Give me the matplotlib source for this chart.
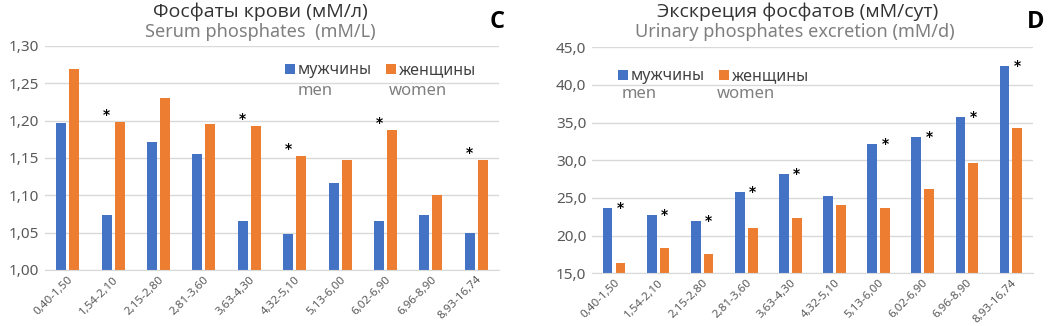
import matplotlib.pyplot as plt
import numpy as np

plt.rcParams['font.family'] = ['Noto Sans', 'DejaVu Sans']

groups = ['0,40-1,50', '1,54-2,10', '2,15-2,80', '2,81-3,60', '3,63-4,30',
          '4,32-5,10', '5,13-6,00', '6,02-6,90', '6,96-8,90', '8,93-16,74']

serum_men = [1.197, 1.073, 1.171, 1.155, 1.066, 1.048, 1.117, 1.066, 1.073, 1.050]
serum_women = [1.269, 1.198, 1.231, 1.195, 1.193, 1.153, 1.147, 1.188, 1.101, 1.147]
serum_star = [False, True, False, False, True, True, False, True, False, True]

urine_men = [23.7, 22.8, 21.9, 25.8, 28.2, 25.3, 32.1, 33.1, 35.8, 42.5]
urine_women = [16.4, 18.4, 17.5, 21.0, 22.3, 24.1, 23.7, 26.2, 29.6, 34.3]
urine_star = [True, True, True, True, True, False, True, True, True, True]

BLUE = '#4472C4'
ORANGE = '#ED7D31'
DARK = '#404040'
GRAY = '#7F7F7F'

fig = plt.figure(figsize=(10.49, 3.26), dpi=100)
ax1 = fig.add_axes([0.0429, 0.1718, 0.4328, 0.6871])
ax2 = fig.add_axes([0.5643, 0.1616, 0.4204, 0.6933])

x = np.arange(len(groups))
w = 0.22
off = 0.145


def style(ax, ylim, step, fmt):
    ax.set_xlim(-0.5, len(groups) - 0.5)
    ax.set_ylim(*ylim)
    ticks = np.arange(ylim[0], ylim[1] + step / 2, step)
    ax.set_yticks(ticks)
    ax.set_yticklabels([fmt.format(t).replace('.', ',') for t in ticks],
                       color='#595959', fontsize=11)
    ax.set_xticks(x)
    ax.set_xticklabels(groups, rotation=45, ha='right', rotation_mode='anchor',
                       color='#595959', fontsize=8.3)
    ax.tick_params(length=0, pad=4)
    ax.tick_params(axis='x', pad=3)
    for s in ['top', 'right', 'left']:
        ax.spines[s].set_visible(False)
    ax.spines['bottom'].set_color('#D9D9D9')
    ax.grid(axis='y', color='#D9D9D9', linewidth=1)
    ax.set_axisbelow(True)


# left panel: serum phosphates
ax1.bar(x - off, serum_men, w, color=BLUE, label='мужчины')
ax1.bar(x + off, serum_women, w, color=ORANGE, label='женщины')
style(ax1, (1.0, 1.30), 0.05, '{:.2f}')
for i, s in enumerate(serum_star):
    if s:
        ax1.text(x[i] - off, serum_women[i], '*', ha='center', va='bottom',
                 fontsize=10, fontweight='bold', color='black',
                 family='DejaVu Sans')

# right panel: urinary excretion
ax2.bar(x - off, urine_men, w, color=BLUE, label='мужчины')
ax2.bar(x + off, urine_women, w, color=ORANGE, label='женщины')
style(ax2, (15.0, 45.0), 5.0, '{:.1f}')
for i, s in enumerate(urine_star):
    if s:
        ax2.text(x[i] + off, urine_men[i], '*', ha='center', va='center',
                 fontsize=10, fontweight='bold', color='black',
                 family='DejaVu Sans')

# legends (two-line: Russian + English)
for ax, pos, pos2 in [(ax1, (0.515, 0.955), [(0.557, 0.80), (0.757, 0.80)]),
                      (ax2, (0.045, 0.935), [(0.068, 0.795), (0.283, 0.795)])]:
    leg = ax.legend(loc='upper left', bbox_to_anchor=pos, ncol=2, frameon=False,
                    handlelength=0.6, handleheight=0.6, handletextpad=0.2,
                    columnspacing=0.9, fontsize=11.5, borderaxespad=0)
    for t in leg.get_texts():
        t.set_color(DARK)
    ax.text(pos2[0][0], pos2[0][1], 'men', transform=ax.transAxes,
            fontsize=12, color=GRAY, va='center')
    ax.text(pos2[1][0], pos2[1][1], 'women', transform=ax.transAxes,
            fontsize=12, color=GRAY, va='center')

# titles
fig.text(0.248, 0.963, 'Фосфаты крови (мМ/л)', ha='center', va='center',
         fontsize=14, color='#333333', family='Open Sans')
fig.text(0.248, 0.902, 'Serum phosphates  (mM/L)', ha='center', va='center',
         fontsize=13, color=GRAY)
fig.text(0.760, 0.963, 'Экскреция фосфатов (мМ/сут)', ha='center', va='center',
         fontsize=14, color='#333333', family='Open Sans')
fig.text(0.758, 0.902, 'Urinary phosphates excretion (mM/d)', ha='center',
         va='center', fontsize=13, color=GRAY)
fig.text(0.474, 0.933, 'C', ha='center', va='center', fontsize=17,
         fontweight='bold', color='black', family='Open Sans')
fig.text(0.979, 0.933, 'D', ha='left', va='center', fontsize=17,
         fontweight='bold', color='black', family='Open Sans')

fig.savefig('out.png', dpi=100)
